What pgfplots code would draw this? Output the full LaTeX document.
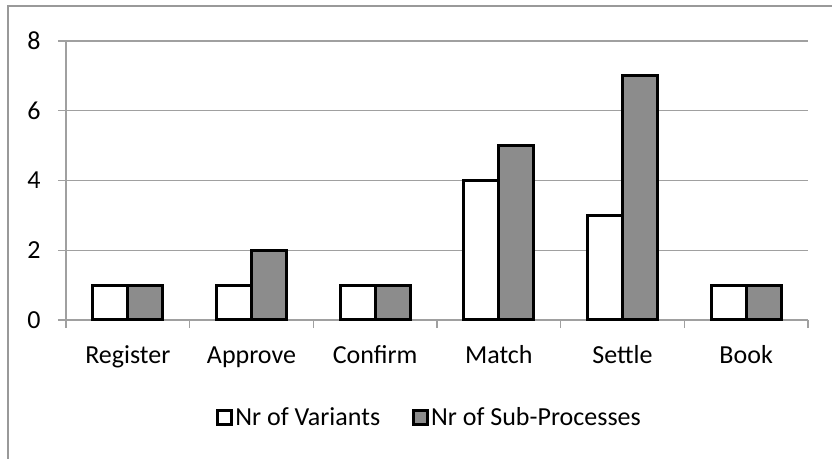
\documentclass[border=0pt]{standalone}
\usepackage{pgfplots}
\pgfplotsset{compat=1.18}
\usepackage{fontspec}
\setmainfont{Carlito}

\definecolor{barGray}{HTML}{8C8C8C}
\definecolor{lineGray}{HTML}{A0A0A0}
\definecolor{frameGray}{HTML}{999999}

\begin{document}
\begin{tikzpicture}
% page size and outer frame
\path[use as bounding box] (0,0) rectangle (832bp,459bp);
\draw[frameGray, line width=2bp] (8bp,0) -- (8bp,453bp) -- (832bp,453bp);

\begin{axis}[
  at={(66bp,139bp)}, anchor=south west,
  scale only axis, width=742bp, height=279bp,
  xmin=-0.5, xmax=5.5, ymin=0, ymax=8,
  ybar=0pt, bar width=35bp,
  axis x line*=bottom, axis y line*=left,
  axis line style={lineGray, line width=1.3bp},
  every tick/.style={lineGray, line width=1.3bp},
  tick align=outside, major tick length=8bp,
  ytick={0,2,...,8},
  ymajorgrids, grid style={lineGray, line width=1.3bp},
  xtick={-0.5,0.5,...,5.5}, xticklabels={},
  extra x ticks={0,1,2,3,4,5},
  extra x tick labels={Register,Approve,Confirm,Match,Settle,Book},
  extra x tick style={major tick length=0pt, grid=none,
    tick label style={yshift=-22bp, text height=18bp, text depth=6bp}},
  tick label style={font=\fontsize{26bp}{30bp}\selectfont},
  yticklabel style={xshift=-14bp},
  /pgf/number format/assume math mode=true,
  legend style={at={(0.49,-0.348)}, anchor=center, draw=none, fill=none,
    legend columns=2, font=\fontsize{26bp}{30bp}\selectfont,
    /tikz/every even column/.append style={column sep=30bp}},
  legend image code/.code={\draw[#1, line width=3bp] (0bp,-7bp) rectangle (14bp,7bp);},
]
\addplot[draw=black, fill=white, line width=3bp] coordinates {(0,1) (1,1) (2,1) (3,4) (4,3) (5,1)};
\addplot[draw=black, fill=barGray, line width=3bp] coordinates {(0,1) (1,2) (2,1) (3,5) (4,7) (5,1)};
\legend{Nr of Variants, Nr of Sub-Processes}
\end{axis}
\end{tikzpicture}
\end{document}
